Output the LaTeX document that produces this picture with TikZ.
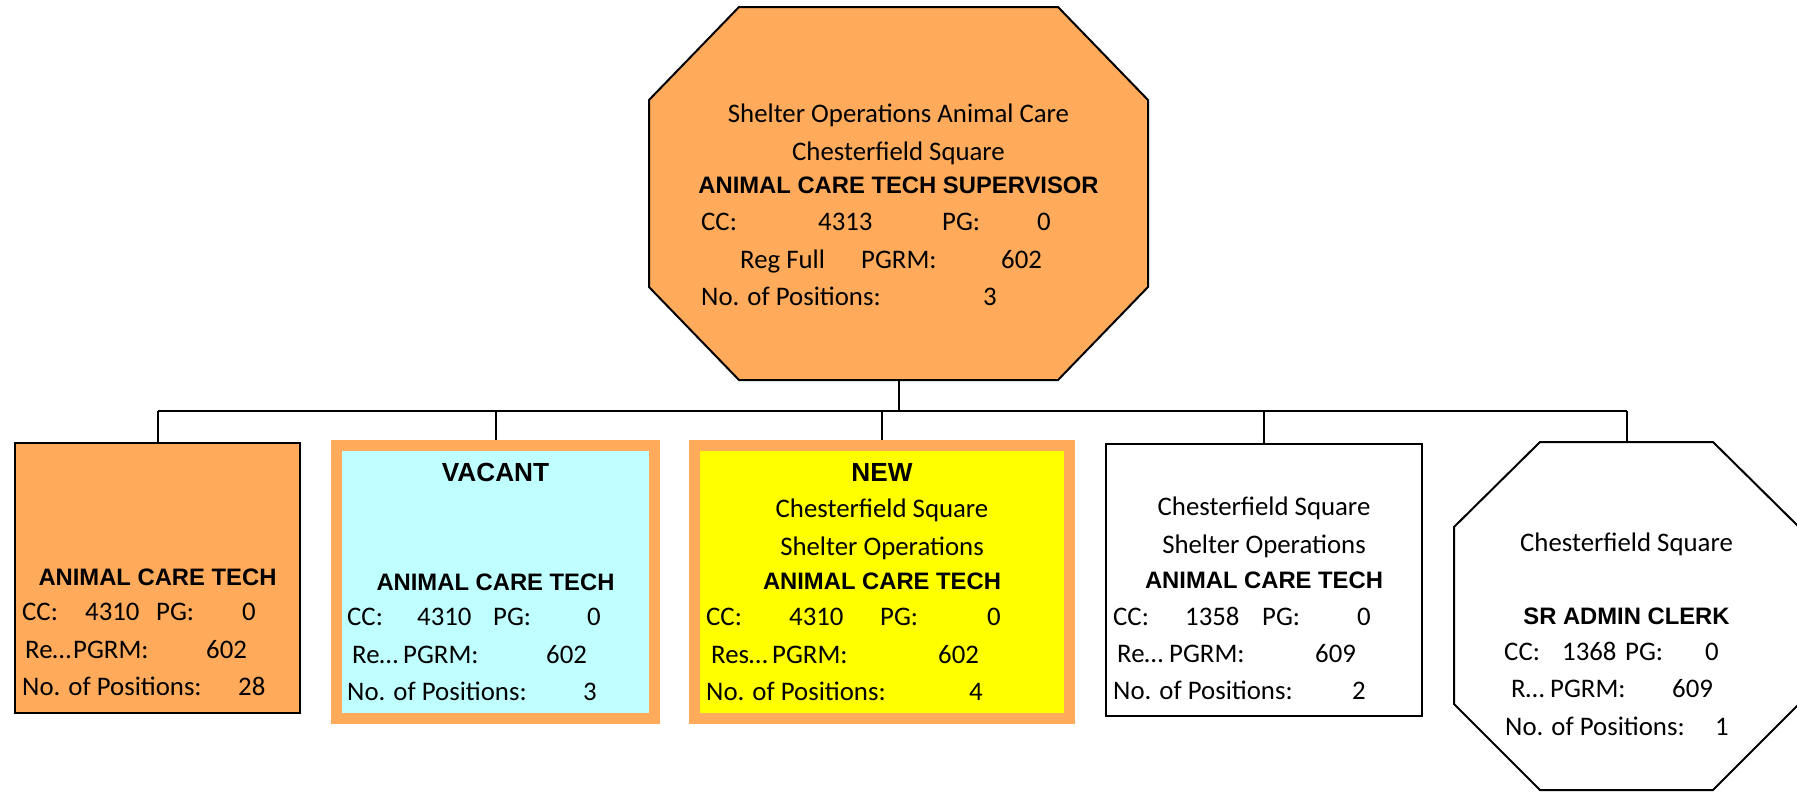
\documentclass[tikz,border=0pt]{standalone}
\usepackage{fontspec}
\newfontfamily\calib{Carlito}
\newfontfamily\arialf{Liberation Sans}
\definecolor{orgF}{HTML}{FFAB5B}
\definecolor{cyanF}{HTML}{BFFFFF}
\definecolor{yelF}{HTML}{FFFF00}
\tikzset{
  txt/.style={inner sep=0pt, anchor=base west, font=\calib\fontsize{26.8}{30}\selectfont},
  ctxt/.style={inner sep=0pt, anchor=base, font=\calib\fontsize{26.8}{30}\selectfont},
  btxt/.style={inner sep=0pt, anchor=base, font=\arialf\bfseries\fontsize{23.8}{28}\selectfont},
  htxt/.style={inner sep=0pt, anchor=base, font=\arialf\bfseries\fontsize{26.2}{30}\selectfont},
  plainbox/.style={draw=black, line width=2pt, inner sep=0pt, outer sep=0pt, anchor=north west},
  markbox/.style={draw=orgF, line width=11pt, inner sep=0pt, outer sep=0pt, anchor=north west},
  octo/.style={draw=black, line width=2pt, line join=miter},
  conn/.style={draw=black, line width=2pt}
}
\begin{document}
\begin{tikzpicture}[x=1pt,y=-1pt]
\useasboundingbox (0,0) rectangle (1797,793);
% top octagon
\path[octo, fill=orgF] (739,7) -- (1058,7) -- (1148,100) -- (1148,287) -- (1058,380) -- (739,380) -- (649,287) -- (649,100) -- cycle;
\coordinate (topS) at (898.5,380);
% boxes
\node[plainbox, fill=orgF, minimum width=285pt, minimum height=270pt] (b1) at (15,443) {};
\node[markbox, fill=cyanF, minimum width=318pt, minimum height=273pt] (b2) at (336.5,445.5) {};
\node[markbox, fill=yelF, minimum width=375pt, minimum height=273pt] (b3) at (694.5,445.5) {};
\node[plainbox, fill=white, minimum width=316pt, minimum height=272pt] (b4) at (1106,444) {};
% right octagon
\path[octo, fill=white] (1540,442) -- (1713,442) -- (1799,527) -- (1799,704) -- (1713,790) -- (1540,790) -- (1454,704) -- (1454,527) -- cycle;
\coordinate (b5N) at (1626.5,442);
% connectors
\coordinate (bus) at (898.5,411);
\draw[conn] (topS) -- (bus);
\draw[conn] (b1.north |- bus) -- (b5N |- bus);
\draw[conn] (b1.north |- bus) -- ([yshift=1pt]b1.north);
\draw[conn] (b2.north |- bus) -- ([yshift=5.5pt]b2.north);
\draw[conn] (b3.north |- bus) -- ([yshift=5.5pt]b3.north);
\draw[conn] (b4.north |- bus) -- ([yshift=1pt]b4.north);
\draw[conn] (b5N |- bus) -- (b5N);
% top texts
\node[ctxt] (t1) at (898.5,122) {Shelter Operations Animal Care};
\node[ctxt] (t2) at (898.5,160) {Chesterfield Square};
\node[btxt] (t3) at (898.5,193) {ANIMAL CARE TECH SUPERVISOR};
\node[txt] (t4) at (701,230) {CC:};
\node[txt] (t5) at (818,230) {4313};
\node[txt] (t6) at (942,230) {PG:};
\node[txt] (t7) at (1037,230) {0};
\node[txt] (t8) at (740,268) {Reg Full};
\node[txt] (t9) at (861,268) {PGRM:};
\node[txt] (t10) at (1001,268) {602};
\node[txt] (t11) at (701,305) {No. of Positions:};
\node[txt] (t12) at (983,305) {3};
% box 1
\node[btxt] (a1) at (157.5,585) {ANIMAL CARE TECH};
\node[txt] (a2) at (22,620.5) {CC:};
\node[txt] (a3) at (85,620.5) {4310};
\node[txt] (a4) at (156,620.5) {PG:};
\node[txt] (a5) at (242,620.5) {0};
\node[txt] (a6) at (25,658.5) {Re…};
\node[txt] (a7) at (73,658.5) {PGRM:};
\node[txt] (a8) at (206,658.5) {602};
\node[txt] (a9) at (22,695.5) {No. of Positions:};
\node[txt] (a10) at (238,695.5) {28};
% box 2
\node[htxt] (v1) at (495.5,481) {VACANT};
\node[btxt] (v2) at (495.5,590) {ANIMAL CARE TECH};
\node[txt] (v3) at (347,625.5) {CC:};
\node[txt] (v4) at (417,625.5) {4310};
\node[txt] (v5) at (493,625.5) {PG:};
\node[txt] (v6) at (587,625.5) {0};
\node[txt] (v7) at (352,663.5) {Re…};
\node[txt] (v8) at (403,663.5) {PGRM:};
\node[txt] (v9) at (546,663.5) {602};
\node[txt] (v10) at (347,700.5) {No. of Positions:};
\node[txt] (v11) at (583,700.5) {3};
% box 3
\node[htxt] (n1) at (882,481) {NEW};
\node[ctxt] (n2) at (882,517.5) {Chesterfield Square};
\node[ctxt] (n3) at (882,555.5) {Shelter Operations};
\node[btxt] (n4) at (882,589) {ANIMAL CARE TECH};
\node[txt] (n5) at (706,625.5) {CC:};
\node[txt] (n6) at (789,625.5) {4310};
\node[txt] (n7) at (880,625.5) {PG:};
\node[txt] (n8) at (987,625.5) {0};
\node[txt] (n9) at (711,663.5) {Res…};
\node[txt] (n10) at (772,663.5) {PGRM:};
\node[txt] (n11) at (938,663.5) {602};
\node[txt] (n12) at (706,700.5) {No. of Positions:};
\node[txt] (n13) at (969,700.5) {4};
% box 4
\node[ctxt] (w1) at (1264,515.5) {Chesterfield Square};
\node[ctxt] (w2) at (1264,553.5) {Shelter Operations};
\node[btxt] (w3) at (1264,588) {ANIMAL CARE TECH};
\node[txt] (w4) at (1113,625.5) {CC:};
\node[txt] (w5) at (1185,625.5) {1358};
\node[txt] (w6) at (1262,625.5) {PG:};
\node[txt] (w7) at (1357,625.5) {0};
\node[txt] (w8) at (1117,662.5) {Re…};
\node[txt] (w9) at (1169,662.5) {PGRM:};
\node[txt] (w10) at (1315,662.5) {609};
\node[txt] (w11) at (1113,699.5) {No. of Positions:};
\node[txt] (w12) at (1352,699.5) {2};
% box 5
\node[ctxt] (s1) at (1626.5,551.5) {Chesterfield Square};
\node[btxt] (s2) at (1626.5,624) {SR ADMIN CLERK};
\node[txt] (s3) at (1504,660.5) {CC:};
\node[txt] (s4) at (1562,660.5) {1368};
\node[txt] (s5) at (1625,660.5) {PG:};
\node[txt] (s6) at (1705,660.5) {0};
\node[txt] (s7) at (1511,697.5) {R…};
\node[txt] (s8) at (1550,697.5) {PGRM:};
\node[txt] (s9) at (1672,697.5) {609};
\node[txt] (s10) at (1505,735.5) {No. of Positions:};
\node[txt] (s11) at (1715,735.5) {1};
\end{tikzpicture}
\end{document}
